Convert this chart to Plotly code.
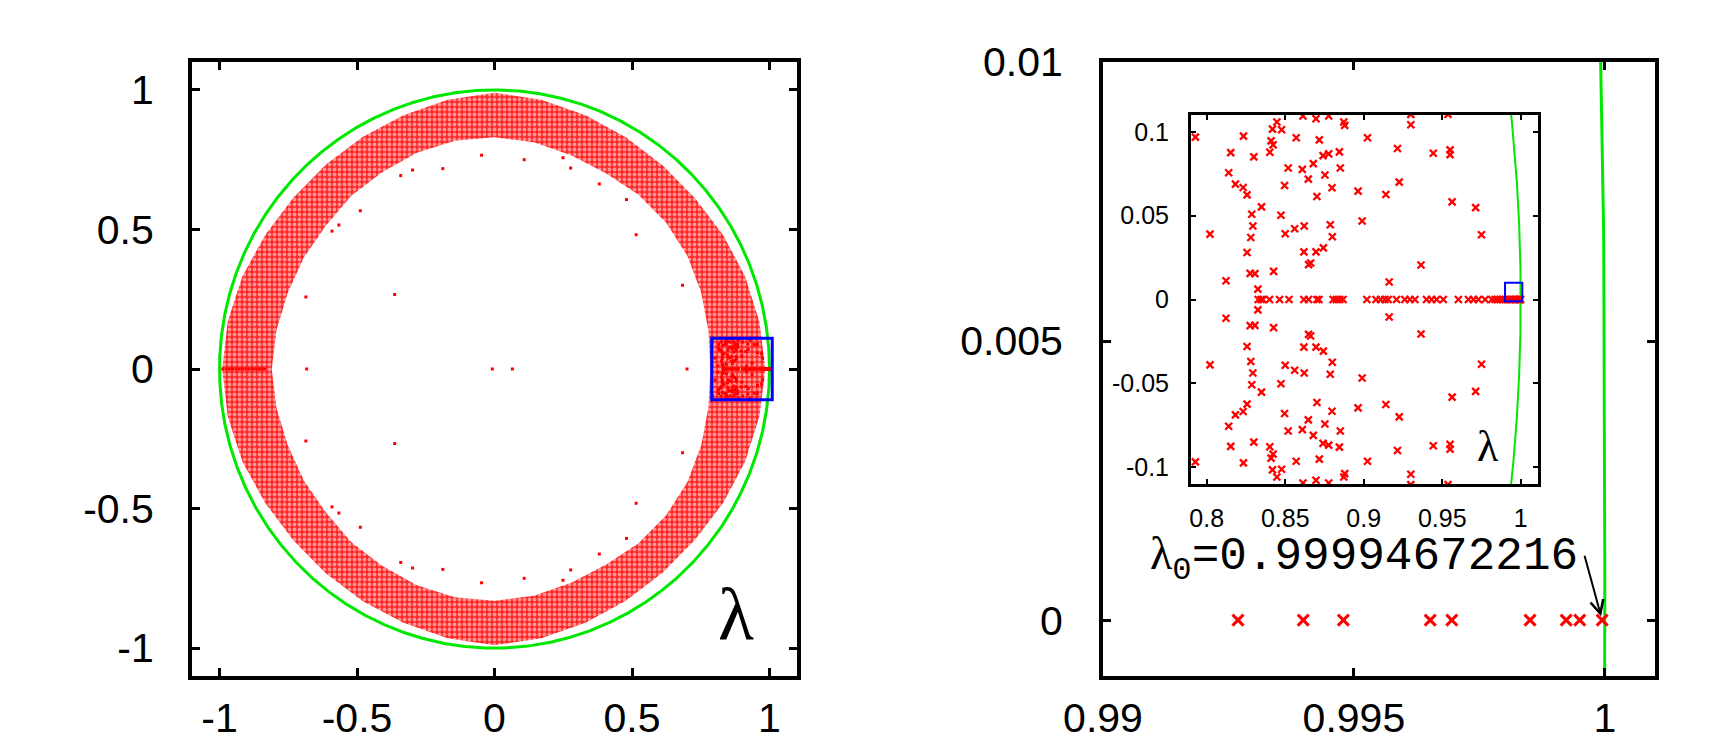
import numpy as np
import plotly.graph_objects as go

# ---------------- data ----------------
# Left panel: dense annulus of eigenvalues, described by its edges (angle in degrees)
BAND_ANGLE = list(range(0, 361, 10))
BAND_INNER = [0.785, 0.79, 0.80, 0.81, 0.815, 0.815, 0.81, 0.815, 0.825, 0.83,
              0.83, 0.825, 0.815, 0.81, 0.80, 0.80, 0.80, 0.805, 0.81,
              0.805, 0.80, 0.80, 0.80, 0.81, 0.815, 0.825, 0.83, 0.83,
              0.825, 0.815, 0.81, 0.815, 0.815, 0.81, 0.80, 0.79, 0.785]
BAND_OUTER = [0.985, 0.978, 0.97, 0.96, 0.952, 0.952, 0.958, 0.968, 0.98, 0.99,
              0.98, 0.968, 0.96, 0.955, 0.955, 0.962, 0.975, 0.985, 0.99,
              0.985, 0.975, 0.962, 0.955, 0.955, 0.96, 0.968, 0.98, 0.99,
              0.98, 0.968, 0.958, 0.952, 0.952, 0.96, 0.97, 0.978, 0.985]

# isolated eigenvalues (upper half; the lower half are complex conjugates)
ISO_X = [-0.363, -0.686, 0.515, 0.684, -0.188, -0.047, 0.108, -0.488, -0.566, -0.591,
         -0.341, -0.298, 0.249, 0.277, 0.381, 0.480]
ISO_Y = [0.267, 0.258, 0.481, 0.300, 0.718, 0.766, 0.750, 0.567, 0.516, 0.494,
         0.693, 0.713, 0.757, 0.720, 0.663, 0.607]
# real eigenvalues seen in the left panel
REAL_LEFT = [-0.988, -0.976, -0.964, -0.952, -0.94, -0.928, -0.916, -0.904, -0.892,
             -0.88, -0.868, -0.856, -0.846, -0.836, -0.683, -0.008, 0.065, 0.700]

# inset: complex eigenvalues near lambda = 1 (upper half, conjugates mirrored)
INSET_X = [0.7928, 0.8234, 0.8153, 0.8300, 0.8140, 0.8183, 0.8232, 0.8257, 0.8349, 0.8287,
           0.8294, 0.8281, 0.8021, 0.8257, 0.8277, 0.8307, 0.8426, 0.8473, 0.8500, 0.8560,
           0.8621, 0.8619, 0.8696, 0.8743, 0.8649, 0.8662, 0.8787, 0.8800, 0.8702, 0.8798,
           0.8964, 0.8990, 0.9141, 0.9226, 0.9215, 0.9024, 0.8851, 0.8845, 0.8777, 0.8741,
           0.8753, 0.8647, 0.8679, 0.8609, 0.8519, 0.8496, 0.8402, 0.8410, 0.8423, 0.8419,
           0.8447, 0.8477, 0.8570, 0.8717, 0.8613, 0.8696, 0.8777, 0.8873, 0.8879, 0.8123,
           0.8326, 0.9162, 0.9300, 0.9300, 0.9443, 0.9550, 0.9550, 0.9563, 0.9713, 0.9750,
           0.9365, 0.9537]
INSET_Y = [0.0968, 0.0974, 0.0876, 0.0850, 0.0756, 0.0688, 0.0668, 0.0624, 0.0552, 0.0508,
           0.0438, 0.0370, 0.0390, 0.0280, 0.0156, 0.0154, 0.0168, 0.0502, 0.0392, 0.0422,
           0.0438, 0.0284, 0.0284, 0.0308, 0.0208, 0.0218, 0.0446, 0.0374, 0.0614, 0.0666,
           0.0646, 0.0468, 0.0626, 0.0700, 0.0900, 0.0964, 0.0784, 0.0880, 0.0868, 0.0858,
           0.0742, 0.0718, 0.0810, 0.0776, 0.0784, 0.0680, 0.0878, 0.0946, 0.0922, 0.1016,
           0.1058, 0.1012, 0.0964, 0.0952, 0.1094, 0.1078, 0.1094, 0.1058, 0.1038, 0.0112,
           0.0062, 0.0104, 0.1042, 0.1104, 0.0872, 0.0892, 0.0864, 0.0582, 0.0548, 0.0386,
           0.0206, 0.1104]
# real eigenvalues in the inset range
REAL_INSET = [0.8328, 0.8347, 0.8358, 0.8400, 0.8464, 0.8524, 0.8619, 0.8649, 0.8702, 0.8715,
              0.8805, 0.8826, 0.8847, 0.8868, 0.9020, 0.9078, 0.9108, 0.9135, 0.9156, 0.9209,
              0.9262, 0.9294, 0.9326, 0.9400, 0.9432, 0.9464, 0.9507, 0.9603, 0.9667, 0.9699,
              0.9730, 0.9773, 0.9816, 0.9837, 0.9853, 0.9869, 0.9885, 0.9901, 0.9915]
# real eigenvalues closest to 1 (right panel)
REAL_ZOOM = [0.99269, 0.99399, 0.99479, 0.99652, 0.99695, 0.99851, 0.99923, 0.99950, 0.999947]
LAMBDA0 = 0.99994672216

LEFT_TICKS = [-1, -0.5, 0, 0.5, 1]
LEFT_TICKTEXT = ["-1", "-0.5", "0", "0.5", "1"]
RIGHT_XTICKS = [0.99, 0.995, 1.0]
RIGHT_XTEXT = ["0.99", "0.995", "1"]
RIGHT_YTICKS = [0, 0.005, 0.01]
RIGHT_YTEXT = ["0", "0.005", "0.01"]
INSET_XTICKS = [0.8, 0.85, 0.9, 0.95, 1.0]
INSET_XTEXT = ["0.8", "0.85", "0.9", "0.95", "1"]
INSET_YTICKS = [-0.1, -0.05, 0, 0.05, 0.1]
INSET_YTEXT = ["-0.1", "-0.05", "0", "0.05", "0.1"]

# ---------------- styling ----------------
RED = "#ff0000"
GREEN = "#00e800"
BLUE = "#0000ff"
W, H = 1720, 756

def dom_x(a, b):
    return [a / W, b / W]

def dom_y(top, bottom):
    return [1 - bottom / H, 1 - top / H]

fig = go.Figure()

# unit circle (|lambda| = 1)
th = np.linspace(0, 2 * np.pi, 1441)
fig.add_trace(go.Scatter(x=np.cos(th), y=np.sin(th), mode="lines",
                         line=dict(color=GREEN, width=3), xaxis="x", yaxis="y",
                         hoverinfo="skip", showlegend=False))

# annulus band (outer edge one way, inner edge back)
a = np.radians(BAND_ANGLE)
ro = np.array(BAND_OUTER)
ri = np.array(BAND_INNER)
bx = list(ro * np.cos(a)) + list((ri * np.cos(a))[::-1])
by = list(ro * np.sin(a)) + list((ri * np.sin(a))[::-1])
fig.add_trace(go.Scatter(x=bx, y=by, mode="lines", fill="toself",
                         line=dict(width=0, color="rgba(0,0,0,0)"),
                         fillcolor="rgba(255,0,0,0.9)",
                         fillpattern=dict(shape=".", fgcolor="white", bgcolor="rgba(255,20,20,0.92)",
                                          size=5, solidity=0.45),
                         xaxis="x", yaxis="y", hoverinfo="skip", showlegend=False))

# left panel points
lx = ISO_X + ISO_X + REAL_LEFT + INSET_X + INSET_X + REAL_INSET + REAL_ZOOM
ly = (ISO_Y + [-v for v in ISO_Y] + [0] * len(REAL_LEFT) + INSET_Y + [-v for v in INSET_Y]
      + [0] * (len(REAL_INSET) + len(REAL_ZOOM)))
fig.add_trace(go.Scatter(x=lx, y=ly, mode="markers",
                         marker=dict(symbol="square", size=3, color=RED, line=dict(width=0)),
                         xaxis="x", yaxis="y", showlegend=False))

# right panel: circle near 1 and real eigenvalues
yy = np.linspace(-0.12, 0.12, 481)
xx = np.sqrt(1 - yy ** 2)
fig.add_trace(go.Scatter(x=xx, y=yy, mode="lines", line=dict(color=GREEN, width=3),
                         xaxis="x2", yaxis="y2", hoverinfo="skip", showlegend=False))
fig.add_trace(go.Scatter(x=REAL_ZOOM, y=[0] * len(REAL_ZOOM), mode="markers",
                         marker=dict(symbol="x-thin", size=11, color=RED,
                                     line=dict(width=3, color=RED)),
                         xaxis="x2", yaxis="y2", showlegend=False))

# inset
fig.add_trace(go.Scatter(x=xx, y=yy, mode="lines", line=dict(color=GREEN, width=2),
                         xaxis="x3", yaxis="y3", hoverinfo="skip", showlegend=False))
ix = INSET_X + INSET_X + REAL_INSET + REAL_ZOOM
iy = INSET_Y + [-v for v in INSET_Y] + [0] * (len(REAL_INSET) + len(REAL_ZOOM))
fig.add_trace(go.Scatter(x=ix, y=iy, mode="markers",
                         marker=dict(symbol="x-thin", size=7, color=RED,
                                     line=dict(width=2.3, color=RED)),
                         xaxis="x3", yaxis="y3", showlegend=False))

axis_common = dict(showline=True, linecolor="black", mirror="allticks", ticks="inside",
                   showgrid=False, zeroline=False, color="black", automargin=False)
big_font = dict(family="Liberation Sans, Arial, sans-serif", size=41, color="black")
small_font = dict(family="Liberation Sans, Arial, sans-serif", size=25, color="black")

fig.update_layout(
    width=W, height=H, autosize=False,
    margin=dict(l=0, r=0, t=0, b=0, pad=0),
    paper_bgcolor="white", plot_bgcolor="white",
    showlegend=False,
    xaxis=dict(domain=dom_x(184, 789), range=[-1.1, 1.1], tickvals=LEFT_TICKS,
               ticktext=LEFT_TICKTEXT, linewidth=4, tickwidth=3, ticklen=8,
               tickfont=big_font, ticklabelstandoff=3, anchor="y", **axis_common),
    yaxis=dict(domain=dom_y(54, 668), range=[-1.1, 1.1], tickvals=LEFT_TICKS,
               ticktext=LEFT_TICKTEXT, linewidth=4, tickwidth=3, ticklen=8,
               tickfont=big_font, ticklabelstandoff=26, anchor="x", **axis_common),
    xaxis2=dict(domain=dom_x(1095, 1647), range=[0.99, 1.001], tickvals=RIGHT_XTICKS,
                ticktext=RIGHT_XTEXT, linewidth=4, tickwidth=3, ticklen=8,
                tickfont=big_font, ticklabelstandoff=3, anchor="y2", **axis_common),
    yaxis2=dict(domain=dom_y(54, 668), range=[-0.001, 0.01], tickvals=RIGHT_YTICKS,
                ticktext=RIGHT_YTEXT, linewidth=4, tickwidth=3, ticklen=8,
                tickfont=big_font, ticklabelstandoff=28, anchor="x2", **axis_common),
    xaxis3=dict(domain=dom_x(1183, 1530), range=[0.79, 1.011], tickvals=INSET_XTICKS,
                ticktext=INSET_XTEXT, linewidth=3, tickwidth=2, ticklen=5,
                tickfont=small_font, ticklabelstandoff=10, anchor="y3", **axis_common),
    yaxis3=dict(domain=dom_y(107, 476), range=[-0.11, 0.11], tickvals=INSET_YTICKS,
                ticktext=INSET_YTEXT, linewidth=3, tickwidth=2, ticklen=5,
                tickfont=small_font, ticklabelstandoff=14, anchor="x3", **axis_common),
)

# zoom boxes
fig.add_shape(type="rect", xref="x", yref="y", x0=0.79, x1=1.01, y0=-0.11, y1=0.11,
              line=dict(color=BLUE, width=3))
fig.add_shape(type="rect", xref="x3", yref="y3", x0=0.99, x1=1.001, y0=-0.001, y1=0.01,
              line=dict(color=BLUE, width=2))

# labels
fig.add_annotation(text="λ", x=728 / W, y=1 - 606 / H, xref="paper", yref="paper",
                   showarrow=False, xanchor="center", yanchor="middle",
                   font=dict(family="Liberation Serif, DejaVu Serif, serif", size=74, color="black"))
fig.add_annotation(text="λ", x=1480 / W, y=1 - 438 / H, xref="paper", yref="paper",
                   showarrow=False, xanchor="center", yanchor="middle",
                   font=dict(family="Liberation Serif, DejaVu Serif, serif", size=44, color="black"))
fig.add_annotation(
    text=("<span style='font-family:Liberation Serif'>λ</span><sub>0</sub>="
          + f"{LAMBDA0:.11f}"),
    x=1140 / W, y=1 - 550 / H, xref="paper", yref="paper", showarrow=False,
    xanchor="left", yanchor="middle",
    font=dict(family="Liberation Mono, DejaVu Sans Mono, monospace", size=46, color="black"))
fig.add_annotation(text="", x=REAL_ZOOM[-1], y=0, xref="x2", yref="y2",
                   showarrow=True, ax=-18, ay=-66, arrowhead=5, arrowsize=1.3,
                   arrowwidth=2, arrowcolor="black", standoff=4)

fig.write_html("out.html")
